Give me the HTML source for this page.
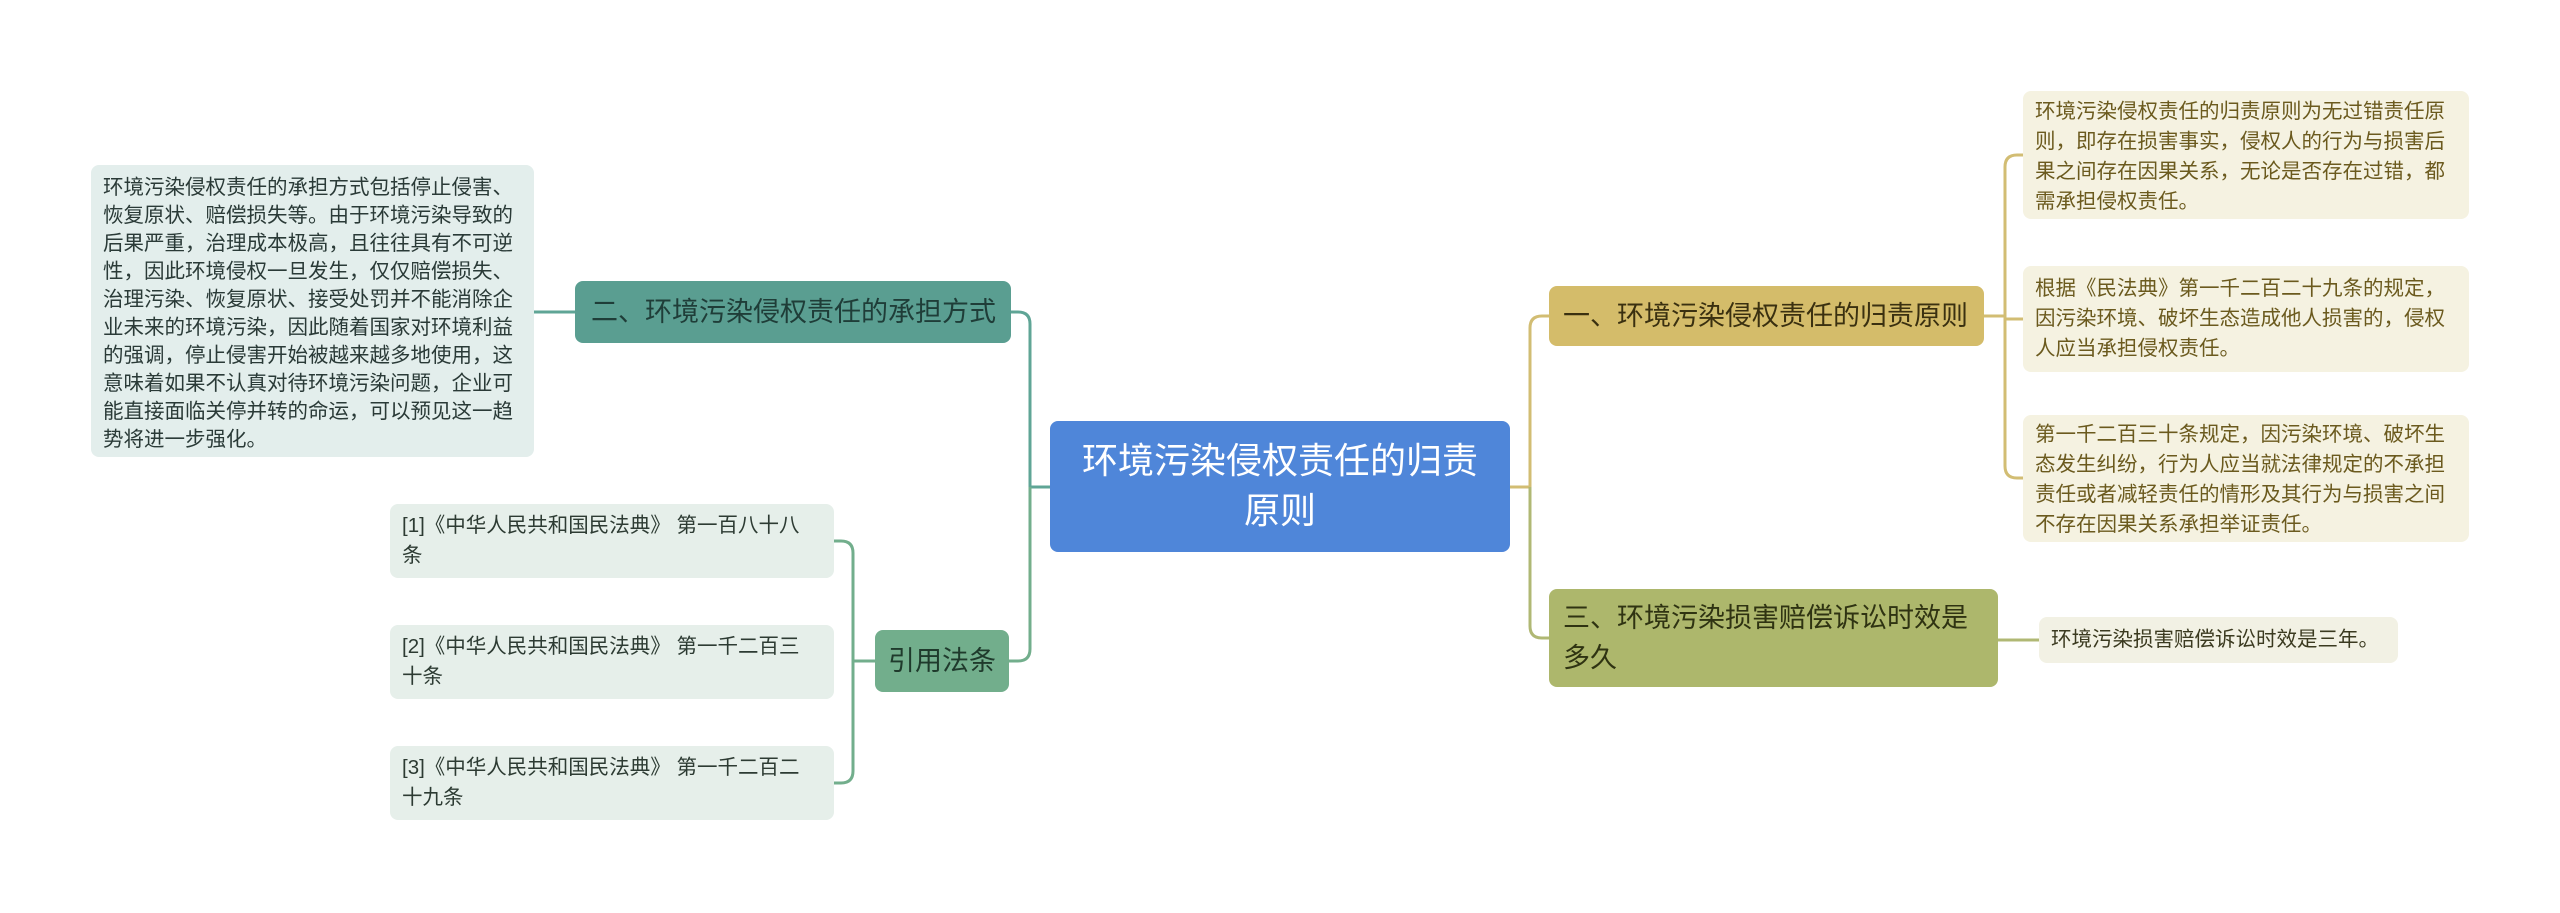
<!DOCTYPE html>
<html><head><meta charset="utf-8"><style>
body{margin:0;width:2560px;height:913px;background:#fff;position:relative;overflow:hidden;font-family:"Liberation Sans","Noto Sans CJK SC",sans-serif;}
.n{position:absolute;box-sizing:border-box;border-radius:8px;white-space:nowrap;}
.t{font-size:20.5px;line-height:30px;padding:10px 12px;}
</style></head><body>
<svg width="2560" height="913" style="position:absolute;left:0;top:0" fill="none" stroke-width="3">
<g stroke="#5fa596">
<path d="M1050 487 H1030 V324 Q1030 312 1018 312 H1011"/>
<path d="M575 312 H534"/>
</g>
<g stroke="#72ae8c">
<path d="M1030 487 V649 Q1030 661 1018 661 H1009"/>
<path d="M875 661 H853"/>
<path d="M853 553 Q853 541 841 541 H834 M853 553 V771 Q853 783 841 783 H834"/>
</g>
<g stroke="#d2bd73">
<path d="M1510 487 H1530 V328 Q1530 316 1542 316 H1549"/>
<path d="M1984 316 H2005"/>
<path d="M2005 167 Q2005 155 2017 155 H2023 M2005 167 V466 Q2005 478 2017 478 H2023 M2005 319 H2023"/>
</g>
<g stroke="#b0b874">
<path d="M1530 487 V626 Q1530 638 1542 638 H1549"/>
<path d="M1998 640 H2039"/>
</g>
</svg>

<div class="n" style="left:1050px;top:421px;width:460px;height:131px;background:#4f86d9;color:#fff;font-size:36px;line-height:50px;text-align:center;padding-top:15px;">环境污染侵权责任的归责<br>原则</div>

<div class="n" style="left:575px;top:281px;width:436px;height:62px;background:#5a9e91;color:#1f3d38;font-size:27px;line-height:62px;padding-left:16px;">二、环境污染侵权责任的承担方式</div>

<div class="n t" style="left:91px;top:165px;width:443px;height:292px;background:#e3eeec;color:#2a3a37;line-height:28px;padding-top:9px;">环境污染侵权责任的承担方式包括停止侵害、<br>恢复原状、赔偿损失等。由于环境污染导致的<br>后果严重，治理成本极高，且往往具有不可逆<br>性，因此环境侵权一旦发生，仅仅赔偿损失、<br>治理污染、恢复原状、接受处罚并不能消除企<br>业未来的环境污染，因此随着国家对环境利益<br>的强调，停止侵害开始被越来越多地使用，这<br>意味着如果不认真对待环境污染问题，企业可<br>能直接面临关停并转的命运，可以预见这一趋<br>势将进一步强化。</div>

<div class="n" style="left:875px;top:630px;width:134px;height:62px;background:#72ae8c;color:#1f3a2c;font-size:27px;line-height:62px;text-align:center;">引用法条</div>

<div class="n t" style="left:390px;top:504px;width:444px;height:74px;background:#e6efea;color:#2d3b33;padding-top:7px;">[1]《中华人民共和国民法典》 第一百八十八<br>条</div>
<div class="n t" style="left:390px;top:625px;width:444px;height:74px;background:#e6efea;color:#2d3b33;padding-top:7px;">[2]《中华人民共和国民法典》 第一千二百三<br>十条</div>
<div class="n t" style="left:390px;top:746px;width:444px;height:74px;background:#e6efea;color:#2d3b33;padding-top:7px;">[3]《中华人民共和国民法典》 第一千二百二<br>十九条</div>

<div class="n" style="left:1549px;top:286px;width:435px;height:60px;background:#d4bc6a;color:#3a3010;font-size:27px;line-height:60px;padding-left:14px;">一、环境污染侵权责任的归责原则</div>

<div class="n" style="left:1549px;top:589px;width:449px;height:98px;background:#adb76c;color:#2f3312;font-size:27px;line-height:40px;padding:9px 14px;">三、环境污染损害赔偿诉讼时效是<br>多久</div>

<div class="n t" style="left:2023px;top:91px;width:446px;height:128px;background:#f5f2e1;color:#6b5a1e;padding-top:6px;">环境污染侵权责任的归责原则为无过错责任原<br>则，即存在损害事实，侵权人的行为与损害后<br>果之间存在因果关系，无论是否存在过错，都<br>需承担侵权责任。</div>
<div class="n t" style="left:2023px;top:266px;width:446px;height:106px;background:#f5f2e1;color:#6b5a1e;padding-top:8px;">根据《民法典》第一千二百二十九条的规定，<br>因污染环境、破坏生态造成他人损害的，侵权<br>人应当承担侵权责任。</div>
<div class="n t" style="left:2023px;top:415px;width:446px;height:127px;background:#f5f2e1;color:#6b5a1e;padding-top:5px;">第一千二百三十条规定，因污染环境、破坏生<br>态发生纠纷，行为人应当就法律规定的不承担<br>责任或者减轻责任的情形及其行为与损害之间<br>不存在因果关系承担举证责任。</div>
<div class="n t" style="left:2039px;top:617px;width:359px;height:46px;background:#f2f1e4;color:#3b3a20;padding-top:8px;">环境污染损害赔偿诉讼时效是三年。</div>
</body></html>
